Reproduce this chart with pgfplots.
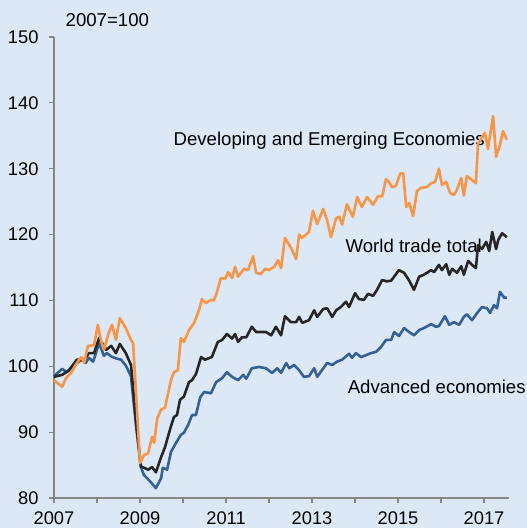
\documentclass[border=0pt]{standalone}
\usepackage{fontspec}
\setmainfont{Liberation Sans}
\usepackage{pgfplots}
\pgfplotsset{compat=1.18}
\definecolor{bgc}{RGB}{220,232,246}
\definecolor{orng}{RGB}{247,150,70}
\definecolor{blk}{RGB}{38,38,38}
\definecolor{blu}{RGB}{54,96,146}
\definecolor{axg}{RGB}{134,134,134}
\newcommand{\lf}{\fontsize{18.6bp}{21bp}\selectfont}
\newcommand{\tf}{\fontsize{18.3bp}{21bp}\selectfont}
\begin{document}
\begin{tikzpicture}
\fill[bgc] (-54bp,-30bp) rectangle (473bp,498bp);
\begin{axis}[
 at={(0,0)}, anchor=south west,
 scale only axis, width=455bp, height=461bp,
 xmin=2007, xmax=2017.58, ymin=80, ymax=150,
 axis x line=bottom, axis y line=left,
 axis line style={axg, line width=1.5bp, -},
 xtick={2007,2008,...,2017},
 xticklabels={2007,,2009,,2011,,2013,,2015,,2017},
 ytick={80,90,...,150},
 tick align=outside, major tick length=5bp,
 tick style={axg, line width=1.2bp},
 ticklabel style={font=\tf, black},
 yticklabel style={xshift=-7bp},
 xticklabel style={yshift=-5bp},
 /pgf/number format/assume math mode=true,
 /pgf/number format/1000 sep={},
 clip=false,
 every axis plot/.append style={line width=2.6bp, line join=round},
]
\node[anchor=base west, font=\lf] at (axis cs:2007.19,151.56) {2007=100};
\node[anchor=base west, font=\lf] at (axis cs:2009.70,133.45) {Developing and Emerging Economies};
\node[anchor=base west, font=\lf] at (axis cs:2013.70,117.25) {World trade total};
\node[anchor=base west, font=\lf] at (axis cs:2013.75,95.8) {Advanced economies};

\addplot[blu] coordinates {
(2007.00,98.5) (2007.19,99.6) (2007.30,99.1) (2007.42,99.9) (2007.53,100.5)
(2007.65,101.0) (2007.74,100.5) (2007.81,101.3) (2007.91,100.7) (2008.05,103.5)
(2008.16,101.6) (2008.23,102.0) (2008.33,101.5) (2008.44,101.2) (2008.56,101.0)
(2008.67,100.1) (2008.79,98.5) (2008.91,90.8) (2009.02,84.7) (2009.09,83.5)
(2009.21,82.7) (2009.37,81.5) (2009.49,83.0) (2009.53,84.6) (2009.63,84.3)
(2009.72,87.0) (2009.84,88.4) (2009.95,89.6) (2010.02,89.9) (2010.12,91.1)
(2010.21,92.6) (2010.30,92.6) (2010.40,95.3) (2010.49,96.1) (2010.65,95.9)
(2010.77,97.6) (2010.91,98.2) (2011.02,99.1) (2011.14,98.4) (2011.28,97.9)
(2011.40,98.7) (2011.47,98.1) (2011.60,99.7) (2011.77,99.9) (2011.93,99.7)
(2012.07,99.0) (2012.19,99.7) (2012.28,99.0) (2012.40,100.5) (2012.47,99.7)
(2012.58,100.2) (2012.70,99.4) (2012.81,98.4) (2012.93,98.5) (2013.05,99.7)
(2013.12,98.4) (2013.23,99.4) (2013.35,100.5) (2013.47,100.2) (2013.58,100.7)
(2013.70,101.0) (2013.86,101.9) (2013.93,101.3) (2014.02,102.0) (2014.14,101.4)
(2014.26,101.7) (2014.37,102.0) (2014.49,102.2) (2014.60,102.9) (2014.72,104.0)
(2014.84,104.0) (2014.91,105.2) (2015.02,104.6) (2015.14,105.8) (2015.26,105.2)
(2015.37,104.7) (2015.49,105.5) (2015.60,105.8) (2015.77,106.4) (2015.88,106.0)
(2015.95,106.1) (2016.09,107.6) (2016.19,106.3) (2016.30,106.7) (2016.42,106.3)
(2016.53,107.5) (2016.60,107.9) (2016.72,107.0) (2016.84,108.1) (2016.95,109.0)
(2017.07,108.8) (2017.14,108.1) (2017.23,109.3) (2017.30,108.8) (2017.37,111.3)
(2017.47,110.4) (2017.53,110.4)
};

\addplot[blk] coordinates {
(2007.00,98.4) (2007.19,98.7) (2007.35,99.4) (2007.53,101.0) (2007.70,101.0)
(2007.81,102.0) (2007.93,102.0) (2008.05,104.3) (2008.21,102.5) (2008.33,103.1)
(2008.44,102.0) (2008.53,103.4) (2008.67,102.0) (2008.79,100.2) (2008.91,91.5)
(2009.02,84.8) (2009.19,84.3) (2009.28,84.7) (2009.37,83.9) (2009.49,86.2)
(2009.58,87.7) (2009.72,90.9) (2009.79,92.3) (2009.86,92.6) (2009.93,94.9)
(2010.02,95.4) (2010.14,97.6) (2010.21,97.9) (2010.30,98.8) (2010.42,101.4)
(2010.51,101.0) (2010.67,101.4) (2010.81,103.7) (2010.91,104.0) (2011.02,104.9)
(2011.14,104.2) (2011.21,104.9) (2011.28,103.7) (2011.37,104.4) (2011.47,104.4)
(2011.60,106.0) (2011.70,105.2) (2011.84,105.2) (2011.93,105.2) (2012.05,104.7)
(2012.16,106.0) (2012.28,104.7) (2012.37,107.6) (2012.51,106.7) (2012.63,106.7)
(2012.70,107.5) (2012.77,106.6) (2012.93,107.0) (2013.05,108.5) (2013.12,107.5)
(2013.26,108.7) (2013.35,108.8) (2013.47,107.5) (2013.56,108.5) (2013.67,109.0)
(2013.79,109.8) (2013.86,109.0) (2014.00,111.1) (2014.09,110.2) (2014.21,110.1)
(2014.30,111.0) (2014.42,110.7) (2014.51,111.6) (2014.63,113.1) (2014.74,112.9)
(2014.84,113.0) (2015.02,114.6) (2015.14,114.2) (2015.26,113.0) (2015.37,111.6)
(2015.49,113.6) (2015.60,113.9) (2015.77,114.6) (2015.84,114.3) (2015.95,115.4)
(2016.02,114.6) (2016.12,115.5) (2016.19,113.9) (2016.26,114.8) (2016.37,114.2)
(2016.47,115.2) (2016.53,113.9) (2016.63,116.0) (2016.72,115.4) (2016.81,114.9)
(2016.86,118.4) (2016.95,117.8) (2017.05,118.9) (2017.12,117.5) (2017.19,120.4)
(2017.28,117.8) (2017.33,119.2) (2017.42,120.2) (2017.53,119.6)
};

\addplot[orng] coordinates {
(2007.00,97.9) (2007.09,97.4) (2007.19,96.9) (2007.28,98.2) (2007.40,99.0)
(2007.51,100.3) (2007.63,101.4) (2007.70,100.5) (2007.79,103.1) (2007.93,103.2)
(2008.02,106.3) (2008.09,104.0) (2008.16,102.5) (2008.28,105.2) (2008.35,106.3)
(2008.44,104.0) (2008.53,107.3) (2008.67,105.8) (2008.79,104.0) (2008.84,103.5)
(2009.00,85.3) (2009.09,86.5) (2009.19,86.8) (2009.28,89.3) (2009.33,88.4)
(2009.40,92.1) (2009.49,93.4) (2009.58,93.7) (2009.72,97.9) (2009.79,99.1)
(2009.88,99.4) (2009.95,104.3) (2010.02,103.7) (2010.14,105.5) (2010.26,106.6)
(2010.37,108.5) (2010.44,110.2) (2010.53,109.6) (2010.65,110.1) (2010.72,110.0)
(2010.79,111.3) (2010.88,113.4) (2010.98,113.3) (2011.05,114.3) (2011.14,113.4)
(2011.21,115.1) (2011.28,113.6) (2011.42,114.8) (2011.51,114.6) (2011.63,116.7)
(2011.70,114.2) (2011.81,114.0) (2011.91,114.8) (2012.00,114.6) (2012.12,115.1)
(2012.21,116.1) (2012.28,114.9) (2012.37,119.5) (2012.51,118.0) (2012.63,116.3)
(2012.70,120.0) (2012.77,119.5) (2012.93,120.4) (2013.02,123.6) (2013.12,121.6)
(2013.26,123.9) (2013.35,122.2) (2013.44,119.6) (2013.56,122.5) (2013.63,122.7)
(2013.70,121.5) (2013.81,124.6) (2013.95,122.7) (2014.05,125.7) (2014.16,124.2)
(2014.28,125.7) (2014.42,124.5) (2014.53,125.8) (2014.63,125.8) (2014.72,128.4)
(2014.79,128.0) (2014.86,127.2) (2014.95,127.4) (2015.05,129.3) (2015.12,129.3)
(2015.19,124.2) (2015.26,124.8) (2015.35,122.8) (2015.44,126.6) (2015.53,127.1)
(2015.67,127.2) (2015.77,127.8) (2015.86,128.0) (2015.95,130.0) (2016.02,127.5)
(2016.12,128.0) (2016.21,126.3) (2016.30,126.0) (2016.37,126.8) (2016.47,128.6)
(2016.53,125.9) (2016.60,128.9) (2016.72,128.3) (2016.81,127.8) (2016.86,133.8)
(2016.98,135.1) (2017.02,135.4) (2017.09,133.0) (2017.21,138.0) (2017.28,131.8)
(2017.37,133.6) (2017.44,135.7) (2017.53,134.4)
};
\end{axis}
\pgfresetboundingbox
\path (-54bp,-30bp) rectangle (473bp,498bp);
\end{tikzpicture}
\end{document}
